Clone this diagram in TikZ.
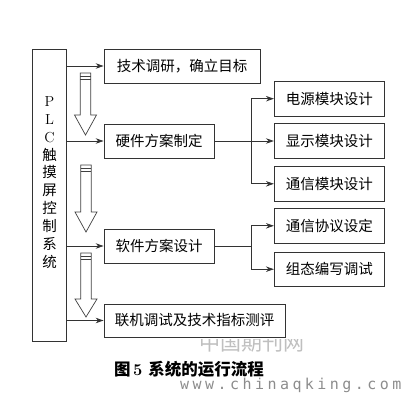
\documentclass[tikz,border=0pt]{standalone}
\usepackage{fontspec}
\newfontfamily\cjk{Noto Sans CJK SC}
\newfontfamily\wmono[LetterSpace=23]{DejaVu Sans Mono}
\usetikzlibrary{arrows.meta}
\begin{document}
\begin{tikzpicture}[x=1pt,y=-1pt,
  box/.style={draw=black!80, line width=0.8pt, inner sep=0pt, minimum height=34pt,
    font=\cjk\fontsize{14.5}{17}\selectfont},
  rbox/.style={box, minimum width=110pt, minimum height=34.5pt},
  conn/.style={draw=black!80, line width=0.8pt, -{Stealth[length=8pt,width=5.5pt]}},
  plain/.style={draw=black!80, line width=0.8pt},
  hollow/.style={draw=black!75, line width=0.7pt, fill=white, line join=miter}]
\useasboundingbox (0,0) rectangle (418,402);
% tall box
\node[draw=black!80, line width=0.8pt, minimum width=34.4pt, minimum height=291.7pt, inner sep=0pt] (plc) at (49.5,195.2) {};
\node[align=center, font=\fontsize{14.5}{17.9}\selectfont, inner sep=0pt] (plclabel) at (49.5,182.5)
  {P\\L\\C\\{\cjk 触}\\{\cjk 摸}\\{\cjk 屏}\\{\cjk 控}\\{\cjk 制}\\{\cjk 系}\\{\cjk 统}};
% main boxes
\node[box, minimum width=156pt] (b1) at (182,66) {技术调研，确立目标};
\node[box, minimum width=110pt] (hw) at (159,141) {硬件方案制定};
\node[box, minimum width=110pt] (sw) at (159,246) {软件方案设计};
\node[box, minimum width=181pt, minimum height=33pt] (b4) at (194.5,320.5) {联机调试及技术指标测评};
% right boxes
\node[rbox] (r1) at (329.3,98.7) {电源模块设计};
\node[rbox] (r2) at (329.3,141) {显示模块设计};
\node[rbox] (r3) at (329.3,183.8) {通信模块设计};
\node[rbox] (r4) at (329.3,225.8) {通信协议设定};
\node[rbox] (r5) at (329.3,269.2) {组态编写调试};
% connectors from tall box
\draw[conn] (plc.east |- b1.west) -- (b1.west);
\draw[conn] (plc.east |- hw.west) -- (hw.west);
\draw[conn] (plc.east |- sw.west) -- (sw.west);
\draw[conn] (plc.east |- b4.west) -- (b4.west);
% hardware branch
\coordinate (j1) at (251,141);
\draw[conn] (hw.east) -- (r2.west);
\draw[conn] (j1) |- (r1.west);
\draw[conn] (j1) |- (r3.west);
% software branch
\coordinate (j2) at (251,246);
\draw[plain] (sw.east) -- (j2);
\draw[conn] (j2) |- (r4.west);
\draw[conn] (j2) |- (r5.west);
% hollow arrows
\foreach \cx/\tp/\hs/\tip in {85.5/73/115/135, 86/165/212/232, 86/253/299/317} {
  \draw[hollow] ({\cx-5.3},\tp) -- ({\cx+5.3},\tp) -- ({\cx+5.3},\hs) -- ({\cx+11},\hs)
    -- (\cx,\tip) -- ({\cx-11},\hs) -- ({\cx-5.3},\hs) -- cycle;
  \draw[black!75, line width=0.7pt] ({\cx-5.3},{\tp+3}) -- ({\cx+5.3},{\tp+3});
  \draw[black!75, line width=0.7pt] ({\cx-5.3},{\tp+6}) -- ({\cx+5.3},{\tp+6});
}
% caption
\node[font=\cjk\bfseries\fontsize{16.5}{18}\selectfont, inner sep=0pt] (title) at (189,369)
  {图\hspace{0.15em}{\rmfamily\bfseries 5}\hspace{0.35em}系统的运行流程};
% watermarks
\begin{scope}
  \clip (150,339.5) rectangle (350,362);
  \node[font=\cjk\fontsize{21}{21}\selectfont, text=black!25, anchor=base, inner sep=0pt] (wm1) at (251.5,350.5) {中国期刊网};
\end{scope}
\node[font=\wmono\fontsize{15}{16}\selectfont, text=black!45, anchor=base west, inner sep=0pt] (wm2) at (180,389.5) {www.chinaqking.com};
\end{tikzpicture}
\end{document}
